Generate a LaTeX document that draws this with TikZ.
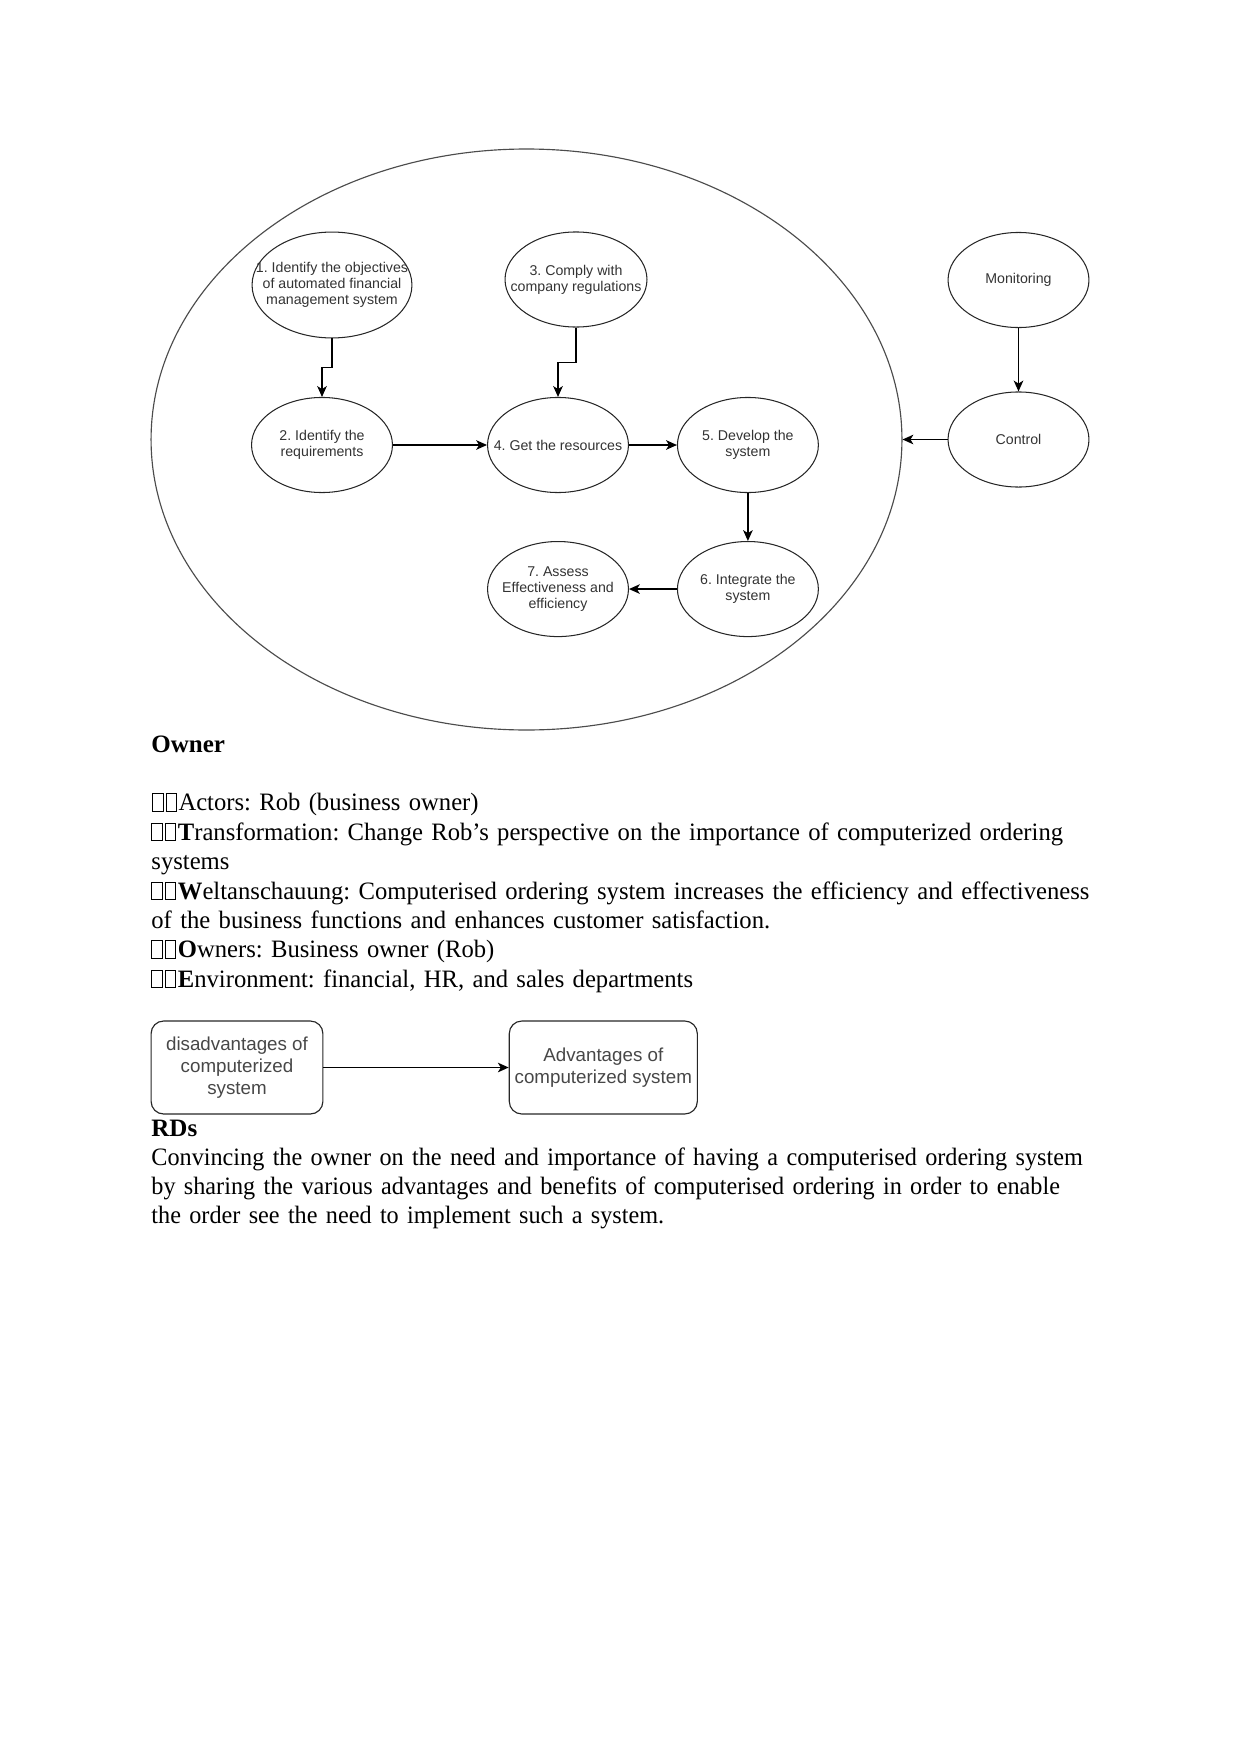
\documentclass[tikz,border=0pt]{standalone}
\usepackage{fontspec}
\setmainfont{Liberation Serif}
\newfontfamily\drawio{Liberation Sans}
\newfontfamily\listfont[FakeStretch=0.985]{Liberation Serif}
\newfontfamily\rdsfont[FakeStretch=0.968]{Liberation Serif}
\usepackage{tikz}
\usetikzlibrary{arrows.meta, positioning, shapes.geometric, calc}
\frenchspacing
% empty glyph boxes printed in front of the list items
\newcommand{\tofu}{\kern0.3pt{\fboxsep=0pt\fboxrule=0.45pt\fbox{\rule{0pt}{7.9pt}\rule{4.6pt}{0pt}}}\kern0.7pt}
\tikzset{
  stagetxt/.style={font=\drawio\fontsize{6.8}{7.7}\selectfont, text=black!80,
                   align=center, inner sep=0pt},
  stage/.style={ellipse, draw=black!85, line width=0.5pt, minimum width=67.6pt,
                minimum height=45.6pt, inner sep=0pt, label={[stagetxt]center:#1}},
  note/.style={draw=black!85, line width=0.55pt, rounded corners=6pt,
               minimum height=44.6pt, inner sep=0pt, align=center,
               font=\drawio\fontsize{9}{10.6}\selectfont, text=black!72},
  body/.style={font=\fontsize{12}{13.93}\selectfont, inner sep=0pt,
               anchor=base west, align=left, text width=470pt},
  flow/.style={-{Stealth[length=5.2pt, width=4.6pt, inset=1.4pt]}, line width=0.65pt},
}
\begin{document}
\begin{tikzpicture}[x=0.4797pt, y=-0.4797pt, node distance=23pt]
\useasboundingbox (0,0) rectangle (1241,1754);

% system boundary
\node[ellipse, draw=black!70, line width=0.55pt, minimum width=360.2pt,
      minimum height=278.7pt] (soi) at (526.5,439.5) {};

% stages inside the system
\node[stage={1. Identify the objectives\\of automated financial\\management system},
      minimum width=76.7pt, minimum height=50.8pt] (n1) at (332,285) {};
\node[stage={3. Comply with\\company regulations}, minimum width=68.1pt] (n3) at (576,279.5) {};
\node[stage={2. Identify the\\requirements}] (n2) at (322,445) {};
\node[stage={4. Get the resources}] (n4) at (558,445) {};
\node[stage={5. Develop the\\system}, right=of n4] (n5) {};
\node[stage={6. Integrate the\\system}, below=of n5] (n6) {};
\node[stage={7. Assess\\Effectiveness and\\efficiency}, left=of n6] (n7) {};

% monitoring and control
\node[stage={Monitoring}] (mon) at (1018.5,280) {};
\node[stage={Control}] (ctl) at (1018.5,439.5) {};

\draw[flow] (n1.south) |- ($(n1.south)!0.5!(n2.north)$) -| (n2.north);
\draw[flow] (n3.south) |- ($(n3.south)!0.5!(n4.north)$) -| (n4.north);
\draw[flow] (n2) -- (n4);
\draw[flow] (n4) -- (n5);
\draw[flow] (n5) -- (n6);
\draw[flow] (n6) -- (n7);
\draw[flow] (mon) -- (ctl);
\draw[flow] (ctl.west) -- (soi.east);

% CATWOE text
\node[body] (owner) at (151,752.7) {\textbf{Owner}};
\node[body] (catwoe) at (151,810.7) {\listfont
\tofu\tofu Actors: Rob (business owner)\\
\tofu\tofu\textbf{T}ransformation: Change Rob’s perspective on the importance of computerized ordering\\
systems\\
\tofu\tofu\textbf{W}eltanschauung: Computerised ordering system increases the efficiency and effectiveness\\
of the business functions and enhances customer satisfaction.\\
\tofu\tofu\textbf{O}wners: Business owner (Rob)\\
\tofu\tofu\textbf{E}nvironment: financial, HR, and sales departments};

% rich picture boxes
\node[note, minimum width=82.4pt] (dis) at (237,1067.5) {disadvantages of\\computerized\\system};
\node[note, minimum width=90.2pt] (adv) at (603.3,1067.5) {Advantages of\\computerized system};
\draw[flow] (dis) -- (adv);

\node[body] (rds) at (151,1136.7) {\textbf{RDs}\\\rdsfont
Convincing the owner on the need and importance of having a computerised ordering system\\
by sharing the various advantages and benefits of computerised ordering in order to enable\\
the order see the need to implement such a system.};
\end{tikzpicture}
\end{document}
